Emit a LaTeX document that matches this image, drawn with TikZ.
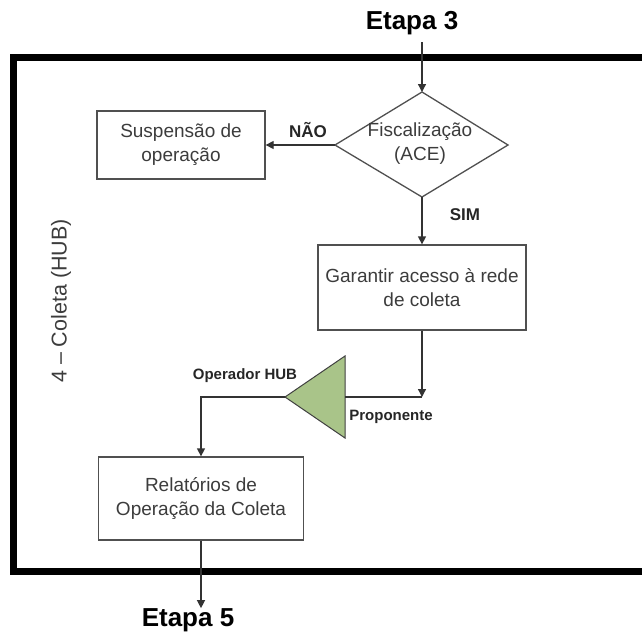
\documentclass[tikz,border=0pt]{standalone}
\usepackage{fontspec}
\setmainfont{Liberation Sans}
\usetikzlibrary{shapes.geometric,arrows.meta}
\definecolor{boxline}{RGB}{80,80,80}
\definecolor{txtgray}{RGB}{60,60,60}
\definecolor{trigreen}{RGB}{169,196,137}
\tikzset{
  box/.style={draw=boxline,line width=1.3pt,rectangle,inner sep=0pt,align=center,text=txtgray,font=\fontsize{19}{24}\selectfont},
  boxtext/.style={inner sep=0pt,align=center,text=txtgray,font=\fontsize{19}{24}\selectfont},
  lbl/.style={inner sep=0pt,font=\fontsize{17}{18}\bfseries\selectfont,text=black!85},
  etapa/.style={inner sep=0pt,font=\fontsize{26}{30}\bfseries\selectfont},
  arr/.style={draw=black!80,line width=1.3pt,-{Triangle[length=8pt,width=8pt]}},
  conn/.style={draw=black!80,line width=1.3pt},
}
\begin{document}
\begin{tikzpicture}[x=1pt,y=-1pt]
\useasboundingbox (0,0) rectangle (642,635);
% frame (open on the right)
\draw[line width=7pt] (660,57.5) -- (13.5,57.5) -- (13.5,571.5) -- (660,571.5);
\node[rotate=90,inner sep=0pt,text=txtgray,font=\fontsize{21.5}{24}\selectfont] (lane) at (61,301) {4 – Coleta (HUB)};
% nodes
\node[etapa] (e3) at (412,23) {Etapa 3};
% decision diamond
\coordinate (diaN) at (422,92);
\coordinate (diaS) at (422,197);
\coordinate (diaW) at (335,145);
\coordinate (diaE) at (508,145);
\draw[draw=boxline,line width=1.3pt] (diaN) -- (diaE) -- (diaS) -- (diaW) -- cycle;
\node[boxtext] (dia) at (420,144) {Fiscalização\\(ACE)};
\node[box,minimum width=168pt,minimum height=68pt] (susp) at (181,145) {Suspensão de\\operação};
\node[box,minimum width=208pt,minimum height=85pt] (gar) at (422,287.5) {Garantir acesso à rede\\de coleta};
\coordinate (triA) at (285,397);
\coordinate (triT) at (345,356);
\coordinate (triB) at (345,438);
\coordinate (triM) at (345,397);
\draw[draw=black!75,line width=1pt,fill=trigreen] (triT) -- (triA) -- (triB) -- cycle;
\node[box,minimum width=205pt,minimum height=83pt] (rel) at (201,498.5) {Relatórios de\\Operação da Coleta};
\node[etapa] (e5) at (188,620) {Etapa 5};
% labels
\node[lbl] (nao) at (308,130) {NÃO};
\node[lbl] (sim) at (465,215) {SIM};
\node[lbl,font=\fontsize{15}{18}\bfseries\selectfont] (oph) at (245,376) {Operador HUB};
\node[lbl,font=\fontsize{15}{18}\bfseries\selectfont] (prop) at (391,417) {Proponente};
% connectors
\coordinate (s3) at (422,42);
\draw[arr] (s3) -- (diaN);
\draw[arr] (diaW) -- (susp.east);
\draw[arr] (diaS) -- (gar.north);
\coordinate (c1) at (422,397);
\draw[arr] (gar.south) -- (c1);
\draw[conn] (c1) -- (triM);
\draw[arr] (triA) -| (rel.north);
\draw[arr] (rel.south) -- (rel.south |- e5.north);
\end{tikzpicture}
\end{document}
